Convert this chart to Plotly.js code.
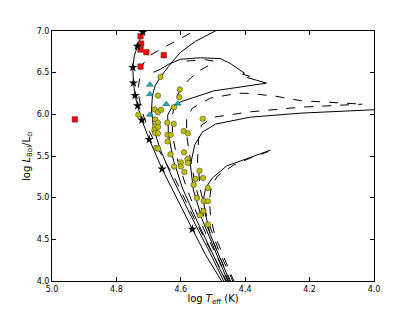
<!DOCTYPE html>
<html><head><meta charset="utf-8">
<script src="https://cdn.plot.ly/plotly-3.0.1.min.js"></script>
<style>body{margin:0;background:#fff}#chart{width:415px;height:313px}</style>
</head><body><div id="chart"></div>
<script>
// ZAMS-like line with star markers
const zamsT = [4.470,4.523,4.564,4.613,4.658,4.698,4.721,4.734,4.742,4.747,4.749,4.744,4.735,4.718,4.713];
const zamsL = [3.978,4.314,4.622,4.996,5.344,5.699,5.931,6.104,6.226,6.377,6.562,6.709,6.817,6.996,7.03];
const starT = [4.718,4.735,4.749,4.747,4.742,4.734,4.721,4.698,4.658,4.564];
const starL = [6.985,6.817,6.562,6.377,6.226,6.104,5.931,5.699,5.344,4.622];

// solid tracks
const s1T = [4.464,4.514,4.570,4.626,4.663,4.685,4.691,4.688,4.679,4.663,4.638,4.601,4.554,4.514,4.483];
const s1L = [3.978,4.374,4.793,5.236,5.571,5.835,6.050,6.230,6.350,6.446,6.577,6.745,6.877,6.960,7.02];
const s2T = [4.458,4.508,4.554,4.595,4.623,4.638,4.641,4.626,4.601,4.498,4.394,4.334,4.365,4.393,4.387,4.408,4.402,4.415,4.446,4.477,4.539,4.601,4.638,4.663,4.685];
const s2L = [3.978,4.374,4.757,5.116,5.451,5.751,5.990,6.098,6.150,6.281,6.338,6.374,6.410,6.440,6.457,6.481,6.493,6.529,6.610,6.669,6.679,6.661,6.601,6.541,6.505];
const s3T = [4.452,4.495,4.533,4.561,4.570,4.557,4.533,4.492,4.384,4.228,4.104,3.995];
const s3L = [3.978,4.374,4.733,5.092,5.392,5.631,5.787,5.883,5.966,6.014,6.038,6.056];
const s5T = [4.446,4.483,4.508,4.523,4.530,4.523,4.502,4.458,4.384,4.321];
const s5L = [3.978,4.314,4.553,4.793,4.972,5.116,5.236,5.380,5.487,5.571];

// dashed tracks
const d0T = [4.455,4.508,4.564,4.616,4.663,4.700,4.722,4.731,4.731,4.722,4.700,4.663,4.616,4.576,4.548];
const d0L = [3.978,4.374,4.793,5.212,5.535,5.811,6.050,6.230,6.350,6.577,6.697,6.781,6.877,6.960,7.02];
const d2T = [4.449,4.498,4.545,4.582,4.610,4.626,4.626,4.616,4.601,4.570,4.539,4.508,4.495,4.523,4.570,4.595];
const d2L = [3.978,4.374,4.757,5.116,5.451,5.751,5.990,6.170,6.314,6.434,6.529,6.601,6.637,6.655,6.649,6.637];
const d3T = [4.443,4.489,4.526,4.551,4.570,4.582,4.582,4.564,4.508,4.421,4.384,4.306,4.228,4.135,4.036];
const d3L = [3.978,4.374,4.733,5.092,5.451,5.751,5.954,6.074,6.194,6.254,6.250,6.218,6.164,6.146,6.122];
const d4T = [4.436,4.483,4.517,4.539,4.548,4.545,4.536,4.498,4.384,4.228,4.036];
const d4L = [3.978,4.374,4.733,5.092,5.451,5.691,5.871,5.966,6.030,6.086,6.122];
const d5T = [4.433,4.470,4.495,4.508,4.511,4.505,4.486,4.436,4.384,4.328];
const d5L = [3.978,4.314,4.553,4.793,4.972,5.140,5.260,5.392,5.475,5.553];

// observed stars
const circT = [4.663,4.603,4.671,4.605,4.621,4.732,4.681,4.671,4.661,4.679,4.671,4.680,4.671,4.682,4.680,4.671,4.642,4.622,4.641,4.631,4.641,4.591,4.578,4.677,4.670,4.632,4.621,4.590,4.579,4.600,4.600,4.578,4.589,4.542,4.554,4.531,4.560,4.516,4.550,4.529,4.516,4.530,4.541,4.516,4.532];
const circL = [6.449,6.298,6.226,6.206,6.086,5.996,6.059,6.026,6.054,5.939,5.898,5.855,5.847,5.811,5.775,5.771,5.901,5.885,5.754,5.754,5.675,5.799,5.772,5.595,5.587,5.520,5.374,5.544,5.463,5.424,5.374,5.416,5.308,5.323,5.226,5.236,5.154,5.116,4.996,4.958,4.958,4.838,4.790,4.677,5.946];
const sqT = [4.725,4.723,4.725,4.707,4.653,4.725,4.929];
const sqL = [6.937,6.849,6.777,6.745,6.709,6.574,5.939];
const triT = [4.696,4.696,4.645,4.609,4.696];
const triL = [6.356,6.242,6.122,6.128,5.996];

const xTicks = [5.0,4.8,4.6,4.4,4.2,4.0];
const yTicks = [4.0,4.5,5.0,5.5,6.0,6.5,7.0];

function line(x,y,dash){return {x:x,y:y,mode:'lines',type:'scatter',line:{color:'black',width:1,dash:dash||'solid'},hoverinfo:'skip',showlegend:false};}
function pts(x,y,sym,col,size){return {x:x,y:y,mode:'markers',type:'scatter',marker:{symbol:sym,color:col,size:size,line:{color:'#333',width:0.5}},hoverinfo:'skip',showlegend:false};}

const data = [
  line(zamsT,zamsL),
  line(s1T,s1L), line(s2T,s2L), line(s3T,s3L), line(s5T,s5L),
  line(d0T,d0L,'dash'), line(d2T,d2L,'dash'), line(d3T,d3L,'dash'), line(d4T,d4L,'dash'), line(d5T,d5L,'dash'),
  pts(circT,circL,'circle','#bfbf00',5.5),
  pts(triT,triL,'triangle-up','#00bfbf',6),
  pts(sqT,sqL,'square','#ff0000',5.5),
  {x:starT,y:starL,mode:'markers',type:'scatter',marker:{symbol:'star',color:'black',size:7},hoverinfo:'skip',showlegend:false}
];

const axisCommon = {showgrid:false,zeroline:false,showline:true,linecolor:'black',linewidth:1,mirror:'ticks',ticks:'inside',ticklen:4,tickcolor:'black',tickfont:{family:'DejaVu Sans',size:8,color:'black'}};
const layout = {
  width:415,height:313,
  margin:{l:52,r:41,t:31,b:32},
  paper_bgcolor:'white',plot_bgcolor:'white',
  xaxis:Object.assign({},axisCommon,{range:[5.0,4.0],tickvals:xTicks,tickformat:'.1f',
    title:{text:'log <i>T</i><sub>eff</sub> (K)',font:{family:'DejaVu Sans',size:10,color:'black'},standoff:2}}),
  yaxis:Object.assign({},axisCommon,{range:[4.0,7.0],tickvals:yTicks,tickformat:'.1f',
    title:{text:'log <i>L</i><sub>Bol</sub>/L<sub>⊙</sub>',font:{family:'DejaVu Sans',size:10,color:'black'},standoff:4}}),
  hovermode:false
};
Plotly.newPlot('chart',data,layout,{staticPlot:true,displayModeBar:false});
</script></body></html>
